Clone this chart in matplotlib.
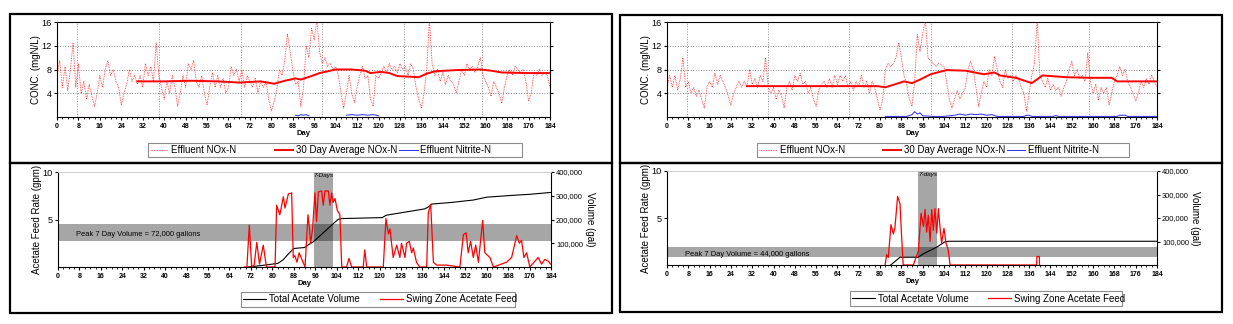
import numpy as np
import matplotlib
matplotlib.use('Agg')
import matplotlib.pyplot as plt
from matplotlib.patches import Rectangle
from matplotlib.ticker import MultipleLocator, FuncFormatter

plt.rcParams['font.family'] = ['Liberation Sans', 'DejaVu Sans']

W, H = 1233, 324
nan = np.nan

# ---- data: left panel (daily effluent NOx-N, mg N/L) ----
days = np.arange(185)
nox_a = [7, 9.5, 5, 8.5, 4.5, 8, 12.5, 5, 9, 4,
         6, 3, 5.5, 3.5, 1.8, 4, 7, 5, 8, 9.5,
         7, 8, 6, 5, 2, 4, 5.5, 8, 6, 7,
         5.5, 7, 5, 9, 7, 8.5, 6, 12.5, 7, 5,
         3, 6, 4, 7, 5, 1.8, 4, 7, 5, 9,
         8, 9.5, 6, 5, 7, 4, 2, 5, 7.5, 5,
         7, 5, 6.5, 4, 5, 8.5, 7, 8, 6, 8,
         5, 7, 6, 5, 6.5, 4, 6, 5, 6, 3,
         1, 2.5, 4.5, 8, 7, 9.5, 14, 11, 8, 5.5,
         6, 1.8, 5, 12, 10, 15, 13, 16.5, 11, 9,
         10, 8.5, 9, 8, 8.5, 7, 4, 1.5, 4, 7,
         4, 2.4, 5, 7, 8.5, 6.5, 7, 3, 1.8, 7,
         6.5, 7.5, 8.5, 7.5, 9, 8, 8.5, 7.5, 9, 8,
         8.5, 7, 9, 8, 5, 3, 1.5, 4, 8, 16.5,
         9, 7, 8, 6, 7.5, 5.5, 7, 6, 5.5, 4,
         6, 8, 7, 9, 8, 8.5, 7.5, 8.5, 10, 7,
         6, 5, 3.5, 6, 5, 4, 2.3, 5, 7, 8,
         7, 8.5, 8, 7.5, 8, 6, 2.7, 4, 7.5, 7,
         8, 7, 7.5, 7, 5]
avg_a_days = [30, 40, 50, 60, 68, 76, 81, 85, 89, 91, 95, 98, 104, 110, 115, 117, 121,
              124, 127, 131, 135, 138, 141, 149, 158, 162, 166, 175, 184]
avg_a = [6.0, 6.0, 6.1, 6.0, 5.8, 6.0, 5.6, 6.1, 6.5, 6.3, 6.9, 7.4, 8.0, 8.0, 7.8, 7.4, 7.6,
         7.4, 6.9, 6.8, 6.7, 7.3, 7.7, 7.9, 8.0, 7.8, 7.5, 7.4, 7.4]
# nitrite only shows above the axis in two short stretches (nan breaks the line)
nitrite_a_days = [89, 90, 91, 92, 93, 94, 100, 108, 110, 112, 114, 116, 118, 120]
nitrite_a = [0.3, 0.2, 0.4, 0.3, 0.4, 0.2, nan, 0.3, 0.4, 0.3, 0.4, 0.3, 0.4, 0.2]

feed_a_days = [69.5, 70.5, 71.4, 72.3, 73.2, 74.2, 75.2, 76.6, 77.8, 81.0,
               81.6, 82.8, 84.1, 84.7, 86.0, 87.2, 87.8, 88.4, 89.2, 90.0,
               91.0, 92.2, 93.3, 93.8, 94.3, 95.0, 95.9, 96.5, 97.2, 98.4,
               99.0, 99.6, 100.9, 101.5, 102.1, 102.7, 103.4, 104.2, 105.2, 105.9,
               107.7, 108.6, 109.6, 113.9, 114.5, 115.2, 121.4, 122.4, 123.3, 123.9,
               125.1, 126.4, 127.6, 128.2, 129.5, 130.1, 131.1, 132.0, 132.6, 133.8,
               135.0, 137.6, 138.2, 139.1, 140.1, 141.3, 145.0, 150.0, 151.3, 152.3,
               153.1, 154.0, 155.0, 155.9, 156.9, 158.5, 159.3, 161.2, 162.5, 167.4,
               169.3, 171.2, 172.2, 173.0, 173.9, 174.9, 176.1, 179.2, 180.5, 181.7,
               183.0, 183.9]
feed_a = [0, 0, 4.4, 0, 0.2, 2.6, 0.3, 2.3, 0, 0,
          6.5, 5.5, 7.4, 6.2, 7.7, 7.8, 1.0, 1.2, 0.5, 1.5,
          0.8, 0, 5.5, 4.2, 2.5, 4.0, 7.8, 4.8, 7.9, 8.0,
          6.5, 8.0, 8.0, 6.5, 7.8, 6.8, 7.2, 6.0, 5.5, 0,
          0, 0.9, 0, 0, 1.8, 0, 0, 5.1, 3.5, 4.0,
          1.0, 2.3, 1.0, 2.5, 1.0, 2.5, 2.7, 1.5, 2.0, 0.5,
          0, 0, 5.7, 6.6, 0.5, 0.2, 0.2, 0, 3.4, 3.6,
          1.5, 2.7, 1.0, 2.3, 0.5, 4.9, 1.5, 1.0, 0, 0.5,
          1.0, 3.3, 2.5, 2.8, 1.0, 1.5, 0, 1.0, 0.3, 0.8,
          0.6, 0.3]
vol_a_days = [71, 75, 82, 84, 86, 88, 92, 93, 95.5, 102.5, 104.6, 106, 121, 122.5, 130,
              137, 138.5, 139.5, 147, 155, 160, 170, 176, 184]
vol_a = [0, 5000, 15000, 30000, 55000, 78000, 82000, 90000, 108000, 180000, 201000, 204000,
         208000, 218000, 232000, 245000, 255000, 265000, 272000, 282000, 294000, 302000,
         306000, 314000]
peak_a_days = (95.5, 102.5)
peak_a_vol = (108000, 180000)

# ---- data: right panel ----
nox_b = [5, 7, 5, 7, 4.5, 6.5, 10, 5, 6, 4,
         5, 3.5, 4.5, 3, 1.5, 5, 6, 5, 7.4, 5.5,
         7, 6, 5, 3.5, 2, 4, 5, 6, 5, 6,
         5, 8, 5.5, 6.5, 5, 7, 6, 10, 5, 4,
         5, 3, 4.5, 3.5, 1.5, 5, 6, 4.5, 7, 6,
         7.4, 5.5, 6, 4, 5, 3, 1.8, 4.5, 5.5, 6,
         5, 6.5, 5, 7, 5.5, 7, 6, 7, 5, 6,
         4.5, 6, 5, 7, 5, 6, 4, 6, 5, 3,
         1.2, 3, 8, 9, 8.5, 9, 10, 12.5, 10, 7,
         5.5, 3, 1.8, 6, 13.9, 11, 14, 16.5, 10, 9.5,
         9, 8.5, 9, 8.8, 8.5, 6, 3, 1.5, 3, 4.5,
         3, 4, 5, 8, 9.4, 8, 5, 1.8, 4, 6,
         5, 8, 7, 10.2, 8, 6, 5, 8, 6.5, 7,
         6, 7, 6.5, 5, 4, 1, 4, 7, 9, 16.5,
         7, 6, 5, 6.5, 4.5, 5.5, 4.5, 5, 3.5, 5,
         6, 8, 9.4, 7, 8, 6.5, 7, 6, 10.8, 6,
         4, 5.5, 2.8, 5, 4, 5, 2, 4, 6, 7,
         8.5, 7, 8, 6, 5, 4, 2.7, 4, 6, 5,
         6.5, 5.5, 7, 6, 5]
avg_b_days = [30, 45, 60, 79, 82, 87, 89, 92, 95, 99, 105, 112, 119, 123, 125, 131, 137,
              141, 150, 159, 167, 169, 184]
avg_b = [5.2, 5.2, 5.2, 5.2, 5.0, 5.7, 6.0, 5.7, 6.3, 7.2, 7.9, 7.8, 7.2, 7.5, 7.0, 6.6, 5.7,
         7.0, 6.7, 6.6, 6.6, 6.0, 6.0]
nitrite_b_days = [82, 90, 92, 93, 94, 95, 96, 100, 104, 108, 110, 112, 114, 116, 118, 120,
                  122, 124, 130, 134, 135, 136, 137, 145, 146, 147, 160, 169, 170, 172, 173, 184]
nitrite_b = [0.1, 0.1, 0.4, 0.9, 0.5, 0.7, 0.2, 0.1, 0.1, 0.3, 0.5, 0.3, 0.5, 0.4, 0.5, 0.3,
             0.4, 0.1, 0.1, 0.1, 0.3, 0.3, 0.1, 0.1, 0.25, 0.1, 0.1, 0.1, 0.3, 0.3, 0.1, 0.1]

feed_b_days = [81.9, 82.5, 83.1, 84.1, 85.0, 85.6, 86.6, 87.5, 88.1, 88.7,
               92.5, 93.8, 94.4, 95.4, 96.3, 96.9, 97.5, 98.1, 98.8, 99.4,
               100.0, 100.6, 101.3, 101.9, 102.5, 103.1, 104.0, 104.8, 105.6, 106.3,
               138.8, 138.9, 139.8, 139.9]
feed_b = [0, 1.1, 0.8, 4.3, 3.3, 4.0, 7.3, 6.5, 3.0, 0,
          0, 1.0, 1.5, 5.5, 4.1, 5.9, 3.5, 5.3, 2.5, 5.9,
          3.7, 6.0, 3.4, 6.0, 4.1, 2.3, 3.9, 2.3, 1.6, 0,
          0, 0.9, 0.9, 0]
vol_b_days = [84, 87.5, 93, 94.3, 96.3, 101.3, 104.4, 106, 184]
vol_b = [0, 33000, 33000, 33000, 48000, 76000, 99000, 101000, 101000]
peak_b_days = (94.3, 101.3)
peak_b_vol = (32000, 76000)

grid_days = [7.5, 38, 68.5, 99, 129.5, 158.5]
conc_ticks = [4, 8, 12, 16]
day_ticks = list(range(0, 185, 8))
vol_ticks = [100000, 200000, 300000, 400000]


def rect(x0, y0, x1, y1):
    # pixel box -> figure fraction [left, bottom, width, height]
    return [x0 / W, 1 - y1 / H, (x1 - x0) / W, (y1 - y0) / H]


fig = plt.figure(figsize=(W / 100, H / 100), dpi=100)


def frame(x0, y0, x1, y1):
    l, b, w, h = rect(x0, y0, x1, y1)
    fig.add_artist(Rectangle((l, b), w, h, transform=fig.transFigure, fill=False,
                             edgecolor='black', lw=1.6))


def legend_row(x0, y0, x1, y1, handles, labels, hlen):
    l, b, w, h = rect(x0, y0, x1, y1)
    fig.add_artist(Rectangle((l, b), w, h, transform=fig.transFigure, facecolor='white',
                             edgecolor='#8c8c8c', lw=0.8))
    colw = (x1 - x0) / len(handles)
    for i, (hd, lb) in enumerate(zip(handles, labels)):
        fig.legend([hd], [lb], loc='center left',
                   bbox_to_anchor=((x0 + 2 + i * colw) / W, 1 - (y0 + y1) / 2 / H),
                   frameon=False, fontsize=7, handlelength=hlen, handletextpad=0.25,
                   borderpad=0, borderaxespad=0)


def style_days(ax):
    ax.set_xlim(0, 184)
    ax.set_xticks(day_ticks)
    ax.xaxis.set_minor_locator(MultipleLocator(2))
    ax.tick_params(axis='x', which='major', labelsize=5, length=2.5, pad=2)
    ax.tick_params(axis='x', which='minor', length=1.5)
    for t in ax.get_xticklabels():
        t.set_fontweight('bold')
    ax.set_xlabel('Day', fontsize=5.5, fontweight='bold', labelpad=0)


def draw_panel(top_px, bot_px, nox, avg_d, avg_v, nit_d, nit_v, feed_d, feed_v,
               vol_d, vol_v, peak_days, peak_vol, seven_txt, top_leg, bot_leg):
    # concentration chart
    ax = fig.add_axes(rect(*top_px))
    l1, = ax.plot(days, nox, color='#ff3030', lw=0.6, ls=(0, (1, 1)))
    l2, = ax.plot(avg_d, avg_v, color='#ff0000', lw=1.4)
    l3, = ax.plot(nit_d, nit_v, color='#2a2aff', lw=0.7)
    for g in grid_days:
        ax.axvline(g, color='#8a8a8a', lw=0.7, ls=':', zorder=0)
    for g in conc_ticks[:-1]:
        ax.axhline(g, color='#8a8a8a', lw=0.7, ls=':', zorder=0)
    ax.set_ylim(0, 16)
    ax.set_yticks(conc_ticks)
    ax.tick_params(axis='y', labelsize=6.6, length=2.5, pad=1.2, right=True)
    style_days(ax)
    ax.set_ylabel('CONC. (mgN/L)', fontsize=7)
    ax.yaxis.set_label_coords(-0.032, 0.5)
    legend_row(*top_leg, [l1, l2, l3],
               ['Effluent NOx-N', '30 Day Average NOx-N', 'Effluent Nitrite-N'], 1.9)

    # acetate chart
    axb = fig.add_axes(rect(*bot_px))
    axv = axb.twinx()
    axb.set_zorder(axv.get_zorder() + 1)
    axb.patch.set_visible(False)
    axv.axhspan(peak_vol[0], peak_vol[1], color='black', alpha=0.35, lw=0, zorder=0)
    axv.axvspan(peak_days[0], peak_days[1], color='black', alpha=0.35, lw=0, zorder=0)
    b1, = axv.plot(vol_d, vol_v, color='black', lw=0.8)
    b2, = axb.plot(feed_d, feed_v, color='#ff0000', lw=0.9)
    axb.set_ylim(0, 10)
    axb.set_yticks([5, 10])
    axv.set_ylim(0, 400000)
    axv.set_yticks(vol_ticks)
    axv.yaxis.set_major_formatter(FuncFormatter(lambda v, p: f'{v:,.0f}'))
    axb.tick_params(axis='y', labelsize=6.6, length=2.5, pad=1.2)
    axv.tick_params(axis='y', labelsize=5.4, length=2.5, pad=1.2)
    style_days(axb)
    for s in ['left', 'bottom', 'top']:
        axv.spines[s].set_visible(False)
    axb.spines['right'].set_visible(False)
    axb.spines['top'].set_color('#c8c8c8')
    axb.spines['top'].set_linewidth(0.6)
    axb.set_ylabel('Acetate Feed Rate (gpm)', fontsize=7)
    axb.yaxis.set_label_coords(-0.033, 0.5)
    axv.set_ylabel('Volume (gal)', fontsize=7, rotation=-90, va='bottom')
    axv.yaxis.set_label_coords(1.068, 0.5)
    axv.text(6.7, (peak_vol[0] + peak_vol[1]) / 2 - 9000,
             f'Peak 7 Day Volume = {peak_vol[1] - peak_vol[0]:,.0f} gallons',
             fontsize=5.4, va='center', ha='left')
    axv.text(sum(peak_days) / 2, 0.985, seven_txt, transform=axv.get_xaxis_transform(),
             fontsize=4.6, style='italic', ha='center', va='top')
    legend_row(*bot_leg, [b1, b2], ['Total Acetate Volume', 'Swing Zone Acetate Feed'], 2.4)


frame(10, 14, 612, 163)
frame(10, 163, 612, 313)
frame(620, 15, 1222, 163)
frame(620, 163, 1222, 312)

draw_panel((57, 22, 550, 117), (58, 172, 551, 267), nox_a, avg_a_days, avg_a,
           nitrite_a_days, nitrite_a, feed_a_days, feed_a, vol_a_days, vol_a,
           peak_a_days, peak_a_vol, '7-Days',
           (148, 143, 522, 157), (241, 292, 515, 307))
draw_panel((667, 22, 1157, 117), (667, 171, 1157, 265), nox_b, avg_b_days, avg_b,
           nitrite_b_days, nitrite_b, feed_b_days, feed_b, vol_b_days, vol_b,
           peak_b_days, peak_b_vol, '7-days',
           (757, 143, 1129, 157), (850, 291, 1122, 306))

fig.savefig('out.png', dpi=100)
